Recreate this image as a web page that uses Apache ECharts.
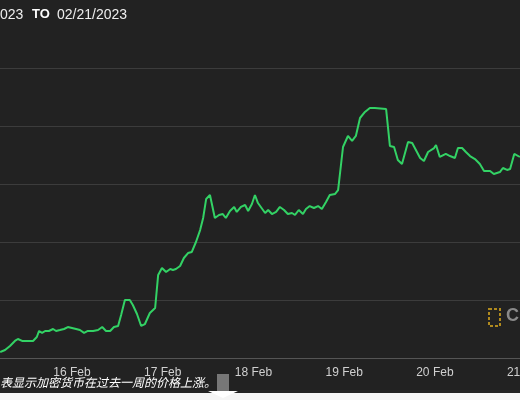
<!DOCTYPE html>
<html>
<head>
<meta charset="utf-8">
<script src="https://cdn.jsdelivr.net/npm/echarts@6/dist/echarts.min.js"></script>
<style>html,body{margin:0;padding:0;background:#222222;}#chart{width:520px;height:400px;}</style>
</head>
<body>
<div id="chart"></div>
<script>
// hours since 15 Feb 2023 00:00
let hours = [5.0,6.3,7.6,8.9,9.7,10.8,12.4,13.7,14.7,15.3,16.1,16.9,17.9,19.0,19.8,20.8,21.9,22.9,24.0,25.1,26.1,27.2,28.2,29.6,30.9,32.0,33.0,34.1,35.1,36.2,37.0,38.0,39.3,40.1,41.2,42.3,43.3,44.6,46.0,46.8,47.8,48.9,50.0,50.7,51.5,52.6,53.6,54.7,55.7,56.8,57.9,58.7,59.5,60.5,61.8,62.9,63.9,64.7,65.8,66.9,67.6,68.7,69.8,70.6,71.6,72.4,73.2,73.7,75.1,75.9,76.9,78.0,79.0,80.1,81.1,82.2,83.0,84.0,85.1,85.9,86.9,88.0,89.1,90.1,91.2,92.2,93.6,94.4,95.7,97.0,98.1,99.1,100.2,101.5,102.8,104.1,107.1,108.1,109.2,110.2,111.3,112.9,114.0,116.1,117.1,118.2,119.8,120.3,121.3,122.9,124.0,125.3,126.1,127.2,128.2,129.3,130.6,131.9,133.0,133.5,134.6,135.6,137.2,138.0,139.1,139.9,141.0,142.5];
let prices = [21552,21569,21604,21647,21664,21647,21647,21647,21681,21733,21716,21733,21733,21750,21733,21741,21750,21767,21759,21750,21741,21716,21733,21733,21741,21767,21733,21733,21767,21776,21871,22000,22000,21957,21879,21776,21793,21888,21931,22216,22276,22241,22267,22259,22267,22293,22362,22405,22414,22500,22603,22707,22871,22905,22707,22733,22741,22707,22767,22802,22759,22802,22819,22767,22828,22905,22836,22828,22750,22776,22741,22759,22802,22776,22741,22750,22733,22776,22741,22784,22810,22793,22810,22784,22845,22905,22914,22948,23319,23414,23371,23414,23569,23621,23655,23655,23646,23328,23319,23207,23172,23362,23353,23224,23198,23276,23310,23336,23233,23259,23241,23224,23310,23310,23276,23241,23215,23172,23112,23095,23112,23086,23103,23138,23121,23129,23259,23233];
let dayLabels = ['15 Feb','16 Feb','17 Feb','18 Feb','19 Feb','20 Feb','21 Feb'];

let chart = echarts.init(document.getElementById('chart'));
chart.setOption({
    backgroundColor: '#222222',
    animation: false,
    grid: { left: -18.75, right: -5.6, top: 68, bottom: 42, containLabel: false, outerBoundsMode: 'none' },
    xAxis: {
        type: 'value', min: 0, max: 144, interval: 24,
        axisLine: { lineStyle: { color: '#555' } },
        axisTick: { show: false },
        splitLine: { show: false },
        axisLabel: {
            color: '#d0d0d0', fontSize: 12, margin: 9, hideOverlap: false,
            fontFamily: 'Helvetica, Arial, sans-serif',
            formatter: function (v) { return v === 0 ? '' : dayLabels[v / 24]; }
        }
    },
    yAxis: {
        type: 'value', min: 21500, max: 24000, interval: 500,
        axisLabel: { show: false },
        axisLine: { show: false },
        axisTick: { show: false },
        splitLine: { lineStyle: { color: '#3c3c3c', width: 1 } }
    },
    series: [{
        type: 'line',
        data: hours.map(function (h, i) { return [h, prices[i]]; }),
        showSymbol: false,
        lineStyle: { color: '#33d265', width: 2 }
    }],
    graphic: [
        { type: 'text', left: 0, top: 8, style: { text: '023', fill: '#eeeeee', fontSize: 14, fontFamily: 'Arial' } },
        { type: 'text', left: 32, top: 8, style: { text: 'TO', fill: '#ffffff', fontSize: 13, fontWeight: 'bold', fontFamily: 'Arial' } },
        { type: 'text', left: 57, top: 8, style: { text: '02/21/2023', fill: '#eeeeee', fontSize: 14, fontFamily: 'Arial' } },
        { type: 'rect', shape: { x: 489, y: 309, width: 11, height: 17 }, style: { fill: 'none', stroke: '#b08a1e', lineWidth: 2, lineDash: [3, 2] } },
        { type: 'text', left: 506, top: 307, style: { text: 'C', fill: '#8a8a8a', fontSize: 18, fontWeight: 'bold', fontFamily: 'Arial' } },
        { type: 'text', left: 0, top: 376, style: { text: '表显示加密货币在过去一周的价格上涨。', fill: '#ffffff', fontSize: 12, fontStyle: 'italic', fontFamily: 'Noto Sans CJK SC' } },
        { type: 'rect', shape: { x: 217, y: 374, width: 12, height: 18 }, style: { fill: '#777' } },
        { type: 'rect', shape: { x: 0, y: 393, width: 520, height: 7 }, style: { fill: '#f5f5f5' } },
        { type: 'polygon', shape: { points: [[208, 391], [238, 391], [223, 398]] }, style: { fill: '#ffffff' } }
    ]
});
</script>
</body>
</html>
